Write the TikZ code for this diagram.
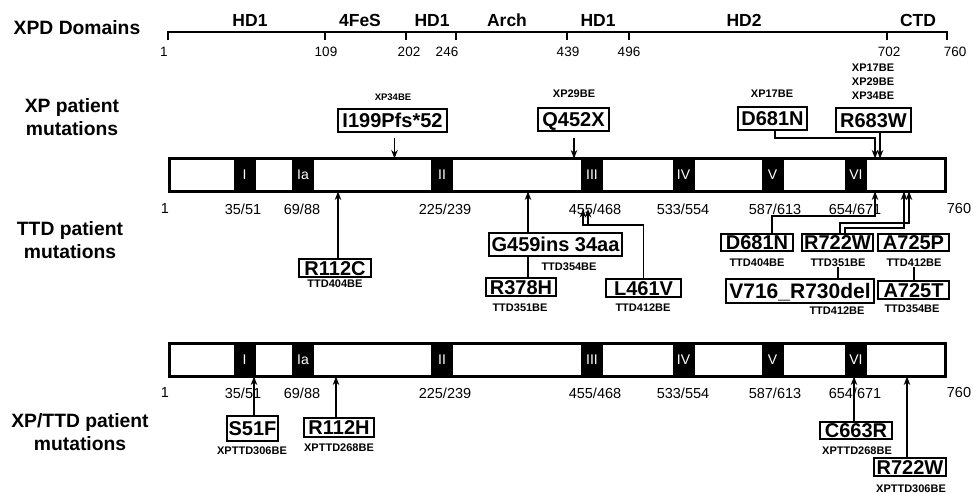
\documentclass[tikz,border=0pt]{standalone}
\usepackage{fontspec}
\setmainfont{Liberation Sans}
\usetikzlibrary{arrows.meta}
\begin{document}
\begin{tikzpicture}[x=1pt,y=-1pt,
  every node/.style={inner sep=0pt, outer sep=0pt},
  hdr/.style={font=\fontsize{19.3}{23}\selectfont\bfseries, align=center},
  dom/.style={font=\fontsize{17.5}{20}\selectfont\bfseries},
  num/.style={font=\fontsize{13.5}{15}\selectfont},
  poslab/.style={font=\fontsize{14.5}{17}\selectfont},
  motif/.style={fill=black, text=white, font=\fontsize{14}{16}\selectfont, minimum width=22pt, minimum height=36pt},
  bar/.style={draw, line width=3pt, minimum width=776pt, minimum height=33pt, fill=white},
  mut/.style={draw, line width=2.2pt, font=\fontsize{20}{22}\selectfont\bfseries, text height=14.3pt, text depth=0pt},
  idl/.style={font=\fontsize{11}{13}\selectfont\bfseries},
  arr/.style={-{Stealth[length=8.5pt,width=6.5pt]}, line width=1.6pt},
  ln/.style={line width=1.6pt}
]
\useasboundingbox (0,0) rectangle (973,494);

% ---------- left headings ----------
\node[hdr] (hXPD) at (77,28) {XPD Domains};
\node[hdr] (hXP) at (72,117) {XP patient\\mutations};
\node[hdr] (hTTD) at (70,240) {TTD patient\\mutations};
\node[hdr] (hXT) at (80,432) {XP/TTD patient\\mutations};

% ---------- domain scale ----------
\draw[line width=2pt] (168,32) -- (947,32);
\foreach \x in {168,325,406,456,567,629,887,947} \draw[line width=2pt] (\x,31) -- (\x,40);
\node[num] (d1) at (164,52) {1};
\node[num] (d109) at (326,52) {109};
\node[num] (d202) at (409,52) {202};
\node[num] (d246) at (447,52) {246};
\node[num] (d439) at (568,52) {439};
\node[num] (d496) at (629,52) {496};
\node[num] (d702) at (889,52) {702};
\node[num] (d760) at (955,52) {760};
\node[dom] (n1) at (250,20) {HD1};
\node[dom] (n2) at (360,20) {4FeS};
\node[dom] (n3) at (432,20) {HD1};
\node[dom] (n4) at (507,20) {Arch};
\node[dom] (n5) at (598,20) {HD1};
\node[dom] (n6) at (744,20) {HD2};
\node[dom] (n7) at (918,20) {CTD};

% ---------- bar 1 ----------
\node[bar] (bar1) at (557.5,175) {};
\node[motif] (a1) at (244.5,175) {I};
\node[motif] (a2) at (303,175) {Ia};
\node[motif] (a3) at (442,175) {II};
\node[motif] (a4) at (592,175) {III};
\node[motif] (a5) at (683.5,175) {IV};
\node[motif] (a6) at (772.5,175) {V};
\node[motif] (a7) at (856,175) {VI};
\node[poslab] (p1) at (165,209) {1};
\node[poslab] (p2) at (243,209) {35/51};
\node[poslab] (p3) at (302,209) {69/88};
\node[poslab] (p4) at (445,209) {225/239};
\node[poslab] (p5) at (595,209) {455/468};
\node[poslab] (p6) at (683,209) {533/554};
\node[poslab] (p7) at (775,209) {587/613};
\node[poslab] (p8) at (855,209) {654/671};
\node[poslab] (p9) at (959,209) {760};

% ---------- bar 2 ----------
\node[bar] (bar2) at (557.5,360) {};
\node[motif] (b1) at (244.5,360) {I};
\node[motif] (b2) at (303,360) {Ia};
\node[motif] (b3) at (442,360) {II};
\node[motif] (b4) at (592,360) {III};
\node[motif] (b5) at (683.5,360) {IV};
\node[motif] (b6) at (772.5,360) {V};
\node[motif] (b7) at (856,360) {VI};
\node[poslab] (q1) at (165,393) {1};
\node[poslab] (q2) at (243,393) {35/51};
\node[poslab] (q3) at (302,393) {69/88};
\node[poslab] (q4) at (445,393) {225/239};
\node[poslab] (q5) at (595,393) {455/468};
\node[poslab] (q6) at (683,393) {533/554};
\node[poslab] (q7) at (775,393) {587/613};
\node[poslab] (q8) at (855,393) {654/671};
\node[poslab] (q9) at (959,393) {760};

% ---------- XP mutations ----------
\node[mut, minimum width=109pt, minimum height=23pt] (i199) at (392.5,120.5) {I199Pfs*52};
\node[idl, font=\fontsize{9.5}{11}\selectfont\bfseries] (xp34a) at (393,97) {XP34BE};
\node[mut, minimum width=71pt, minimum height=23pt] (q452) at (573.5,119.5) {Q452X};
\node[idl] (xp29a) at (574,94) {XP29BE};
\node[mut, minimum width=69pt, minimum height=23pt] (d681x) at (772.5,118.5) {D681N};
\node[idl] (xp17a) at (772,94) {XP17BE};
\node[mut, minimum width=75pt, minimum height=24pt] (r683) at (873.5,120) {R683W};
\node[idl] (xp17b) at (873,68) {XP17BE};
\node[idl] (xp29b) at (873,82) {XP29BE};
\node[idl] (xp34b) at (873,96) {XP34BE};

\draw[arr] ([xshift=2pt,yshift=-6pt]i199.south) -- ([xshift=2pt]i199.south |- bar1.north);
\draw[arr] ([xshift=0.5pt,yshift=-7pt]q452.south) -- ([xshift=0.5pt]q452.south |- bar1.north);
\draw[arr] ([xshift=2.5pt]d681x.south) -- ++(0,8) -| ([xshift=1.5pt]r683.south |- bar1.north);
\draw[arr] ([xshift=6.5pt]r683.south) -- ([xshift=6.5pt]r683.south |- bar1.north);

% ---------- TTD mutations ----------
\node[mut, minimum width=72pt, minimum height=18pt] (r112c) at (335,268) {R112C};
\node[idl] (t404a) at (335,284) {TTD404BE};
\node[mut, minimum width=133pt, minimum height=23pt] (g459) at (555.5,244.5) {G459ins 34aa};
\node[idl] (t354a) at (569,267) {TTD354BE};
\node[mut, minimum width=70pt, minimum height=18pt] (r378) at (521,287) {R378H};
\node[idl] (t351a) at (520,308) {TTD351BE};
\node[mut, minimum width=75pt, minimum height=18pt] (l461) at (643.5,288) {L461V};
\node[idl] (t412a) at (643,308) {TTD412BE};
\node[mut, minimum width=72pt, minimum height=17pt] (d681t) at (757,242.5) {D681N};
\node[idl] (t404b) at (757,263) {TTD404BE};
\node[mut, minimum width=71pt, minimum height=17pt] (r722t) at (837.5,242.5) {R722W};
\node[idl] (t351b) at (838,263) {TTD351BE};
\node[mut, minimum width=71pt, minimum height=17pt] (a725p) at (913.5,242.5) {A725P};
\node[idl] (t412b) at (914,263) {TTD412BE};
\node[mut, minimum width=148pt, minimum height=24pt, font=\fontsize{21}{23}\selectfont\bfseries, text height=15pt] (v716) at (800,291) {V716\_R730del};
\node[idl] (t412c) at (837,311) {TTD412BE};
\node[mut, minimum width=71pt, minimum height=18pt] (a725t) at (913.5,290) {A725T};
\node[idl] (t354b) at (912,309) {TTD354BE};

\draw[arr] ([xshift=3pt]r112c.north) -- ([xshift=3pt]r112c.north |- bar1.south);
\draw[arr] ([xshift=-27.5pt]g459.north) -- ([xshift=-27.5pt]g459.north |- bar1.south);
\draw[ln] ([xshift=7pt]r378.north) -- ([xshift=7pt]r378.north |- g459.south);
\coordinate (hA) at (583,225);
\coordinate (hB) at (588,225);
\draw[arr] (l461.north) |- (hA) -- (hA |- p5.center);
\draw[arr] (hB) -- (hB |- p5.center);
\coordinate (tD) at (875,216);
\draw[arr] ([xshift=15pt]d681t.north) |- (tD) -- (tD |- bar1.south);
\coordinate (tR1) at (909,223);
\coordinate (tR2) at (904,228);
\draw[arr] ([xshift=2.5pt]r722t.north) |- (tR1) -- (tR1 |- bar1.south);
\draw[arr] ([xshift=7.5pt]r722t.north) |- (tR2) -- (tR2 |- bar1.south);
\draw[ln] (t351b.south) -- (t351b.south |- v716.north);
\draw[ln] (t412b.south) -- (t412b.south |- a725t.north);

% ---------- XP/TTD mutations ----------
\node[mut, minimum width=51pt, minimum height=25pt] (s51f) at (252.5,428.5) {S51F};
\node[idl] (x306a) at (252,451) {XPTTD306BE};
\node[mut, minimum width=70pt, minimum height=19pt] (r112h) at (339,427.5) {R112H};
\node[idl] (x268a) at (339,448) {XPTTD268BE};
\node[mut, minimum width=72pt, minimum height=17pt] (c663r) at (856,430.5) {C663R};
\node[idl] (x268b) at (857,451) {XPTTD268BE};
\node[mut, minimum width=72pt, minimum height=18pt] (r722x) at (910,467) {R722W};
\node[idl] (x306b) at (911,489) {XPTTD306BE};

\draw[arr] ([xshift=1.5pt]s51f.north) -- ([xshift=1.5pt]s51f.north |- bar2.south);
\draw[arr] ([xshift=-3pt]r112h.north) -- ([xshift=-3pt]r112h.north |- bar2.south);
\draw[arr] ([xshift=-2pt]c663r.north) -- ([xshift=-2pt]c663r.north |- bar2.south);
\draw[arr] ([xshift=-3pt]r722x.north) -- ([xshift=-3pt]r722x.north |- bar2.south);
\end{tikzpicture}
\end{document}
